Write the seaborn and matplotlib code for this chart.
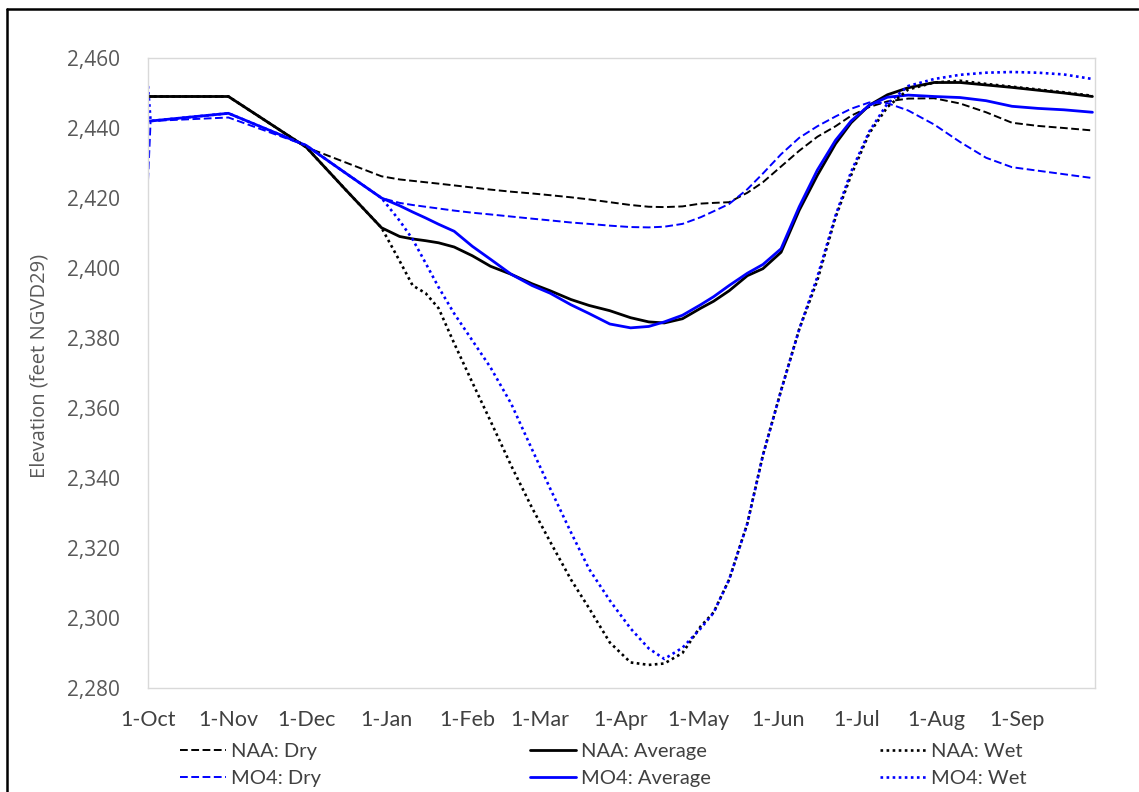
#%% import libraries
import numpy as np
import pandas as pd
import seaborn as sns
import matplotlib.pyplot as plt
from matplotlib.lines import Line2D
from matplotlib.ticker import StrMethodFormatter

#%% data (day of water year, 0 = 1-Oct)
days = [0, 1, 31, 61, 76, 90, 97, 102, 107, 112, 118, 125, 132, 140, 148, 155,
        163, 170, 178, 186, 193, 199, 206, 213, 218, 224, 231, 237, 244, 251,
        258, 265, 271, 278, 285, 293, 303, 313, 323, 333, 343, 353, 364]

naa_dry = [2449, 2449, 2449, 2434.5, 2430.2, 2426.2, 2425.3, 2424.9, 2424.5,
           2424.1, 2423.6, 2423.0, 2422.4, 2421.8, 2421.3, 2420.8, 2420.2,
           2419.6, 2418.8, 2418.0, 2417.5, 2417.4, 2417.6, 2418.4, 2418.6,
           2418.8, 2421.5, 2424.5, 2429.0, 2433.5, 2437.5, 2440.5, 2443.5,
           2446.0, 2447.6, 2448.4, 2448.5, 2447.0, 2444.5, 2441.5, 2440.6,
           2440.0, 2439.3]

naa_avg = [2449, 2449, 2449, 2434.5, 2422.5, 2411.5, 2409.0, 2408.3, 2407.8,
           2407.2, 2406.0, 2403.5, 2400.5, 2398.2, 2395.5, 2393.5, 2391.0,
           2389.3, 2387.8, 2385.8, 2384.6, 2384.3, 2385.5, 2388.5, 2390.5,
           2393.5, 2397.8, 2399.8, 2404.5, 2416.5, 2426.5, 2435.5, 2441.5,
           2446.5, 2449.5, 2451.5, 2453.0, 2453.0, 2452.3, 2451.6, 2450.8,
           2450.0, 2449.0]

naa_wet = [2449, 2449, 2449, 2434.5, 2422.5, 2411.5, 2402.0, 2395.0, 2392.8,
           2388.5, 2378.5, 2367.3, 2356.3, 2343.5, 2331.5, 2321.8, 2311.0,
           2302.8, 2293.0, 2287.3, 2286.6, 2287.0, 2290.0, 2297.6, 2301.6,
           2311.0, 2327.0, 2346.5, 2365.0, 2382.5, 2396.5, 2414.5, 2426.5,
           2438.5, 2446.0, 2451.0, 2453.0, 2453.5, 2452.6, 2451.8, 2451.0,
           2450.2, 2449.2]

mo4_dry = [2425, 2442, 2443, 2435, 2427.2, 2420.0, 2418.6, 2418.0, 2417.5,
           2417.0, 2416.4, 2415.8, 2415.3, 2414.7, 2414.1, 2413.6, 2413.0,
           2412.6, 2412.1, 2411.7, 2411.6, 2411.8, 2412.6, 2414.5, 2416.2,
           2418.3, 2422.5, 2427.0, 2432.5, 2437.2, 2440.5, 2443.3, 2445.5,
           2447.3, 2447.1, 2445.0, 2441.0, 2436.0, 2431.5, 2428.8, 2427.8,
           2426.8, 2425.7]

mo4_avg = [2442, 2442, 2444.2, 2435, 2427.2, 2420.0, 2417.8, 2416.0, 2414.3,
           2412.5, 2410.5, 2406.2, 2402.5, 2398.2, 2395.0, 2392.8, 2389.5,
           2387.0, 2384.0, 2382.9, 2383.3, 2384.6, 2386.5, 2389.5, 2391.8,
           2395.0, 2398.5, 2401.0, 2405.5, 2417.5, 2428.0, 2436.5, 2442.0,
           2446.5, 2448.8, 2449.4, 2449.0, 2448.7, 2447.8, 2446.2, 2445.6,
           2445.2, 2444.5]

mo4_wet = [2452, 2442, 2444.2, 2435, 2427.2, 2420.0, 2413.5, 2408.2, 2401.4,
           2394.5, 2387.0, 2379.3, 2371.6, 2361.2, 2348.2, 2337.0, 2324.5,
           2314.0, 2305.0, 2297.0, 2291.3, 2288.3, 2291.5, 2297.0, 2301.5,
           2311.0, 2327.0, 2346.5, 2365.0, 2382.5, 2397.5, 2415.0, 2427.5,
           2439.0, 2447.0, 2452.0, 2454.0, 2455.2, 2455.8, 2456.0, 2455.8,
           2455.3, 2454.0]

month_days = [0, 31, 61, 92, 123, 151, 182, 212, 243, 273, 304, 335]
month_labels = ['1-Oct', '1-Nov', '1-Dec', '1-Jan', '1-Feb', '1-Mar',
                '1-Apr', '1-May', '1-Jun', '1-Jul', '1-Aug', '1-Sep']
y_ticks = [2280, 2300, 2320, 2340, 2360, 2380, 2400, 2420, 2440, 2460]

#%% style
sns.set_style('white')
plt.rcParams['font.family'] = ['Open Sans', 'DejaVu Sans']

black = '#000000'
blue = '#0000ff'
dash = (0, (4, 1.8))
dot = (0, (1, 1.3))

series = [
    ('NAA: Dry', naa_dry, black, dash, 1.4),
    ('MO4: Dry', mo4_dry, blue, dash, 1.4),
    ('NAA: Average', naa_avg, black, '-', 2.0),
    ('MO4: Average', mo4_avg, blue, '-', 2.0),
    ('NAA: Wet', naa_wet, black, dot, 1.9),
    ('MO4: Wet', mo4_wet, blue, dot, 1.9),
]

#%% plot
fig = plt.figure(figsize=(11.39, 7.92), dpi=100)
ax = fig.add_axes([148 / 1139, 1 - 688 / 792, 947 / 1139, 630 / 792])

for name, vals, col, ls, lw in series:
    sns.lineplot(x=days, y=vals, color=col, linestyle=ls, linewidth=lw,
                 label=name, ax=ax, legend=False)

ax.set_xlim(0, 365)
ax.set_ylim(2280, 2460)
ax.set_yticks(y_ticks)
ax.yaxis.set_major_formatter(StrMethodFormatter('{x:,.0f}'))
ax.set_xticks(month_days)
ax.set_xticklabels(month_labels, fontfamily=['Lato', 'DejaVu Sans'],
                   fontsize=15.5, color='#404040')
ax.tick_params(axis='x', length=0, pad=16)
ax.tick_params(axis='y', length=0, pad=20, labelsize=15, labelcolor='#595959')
ax.set_xlabel('')
ax.set_ylabel('Elevation (feet NGVD29)', fontsize=14.5, color='#595959')
ax.yaxis.set_label_coords(-0.1035, 0.511)

for sp in ax.spines.values():
    sp.set_color('#d9d9d9')
    sp.set_linewidth(1.0)

# legend: three columns, two rows
handles = ax.get_lines()
col_x = [180, 530, 880]
for i, x0 in enumerate(col_x):
    leg = fig.legend(handles=handles[2 * i:2 * i + 2],
                     labels=[series[2 * i][0], series[2 * i + 1][0]],
                     loc='upper left', bbox_to_anchor=(x0 / 1139, 1 - 743 / 792),
                     frameon=False, borderpad=0, borderaxespad=0,
                     handlelength=2.3, handletextpad=0.25, labelspacing=0.5,
                     prop={'family': ['Lato', 'DejaVu Sans'], 'size': 14.5})
    for t in leg.get_texts():
        t.set_color('#404040')

# outer frame (left and top edges of the cropped chart)
fx = 7 / 1139
fy = 1 - 8.5 / 792
fig.add_artist(Line2D([fx, fx], [0, fy], color='black', lw=1.8,
                      transform=fig.transFigure))
fig.add_artist(Line2D([fx, 0.999], [fy, fy], color='black', lw=1.8,
                      transform=fig.transFigure))

fig.savefig('out.png', dpi=100)
